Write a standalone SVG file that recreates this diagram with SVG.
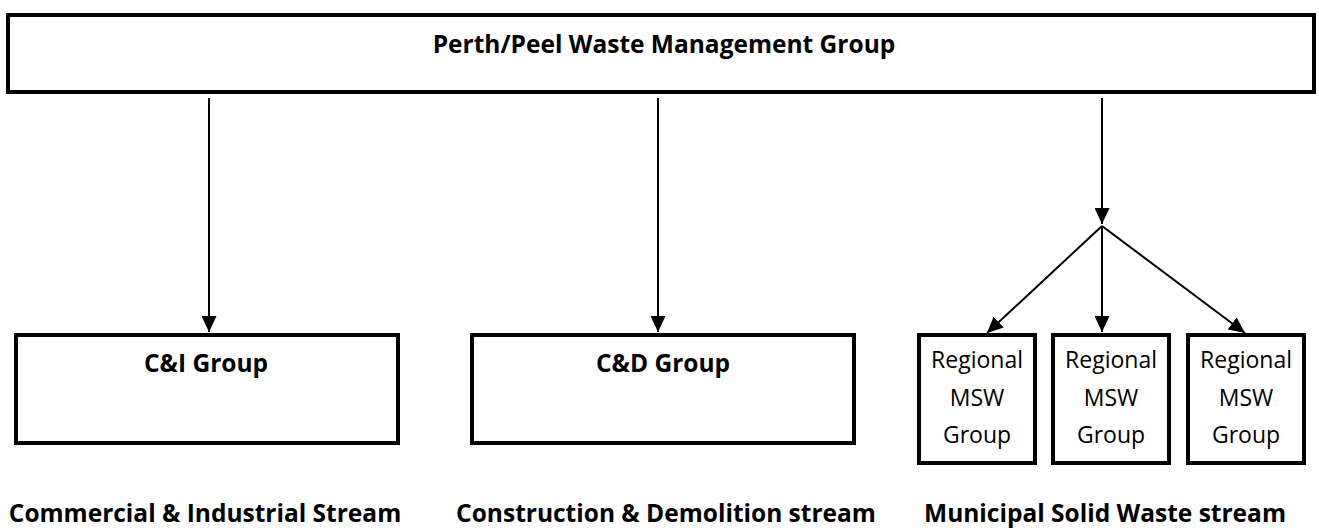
<svg xmlns="http://www.w3.org/2000/svg" width="1319" height="528" viewBox="0 0 1319 528">
<style>
.box{fill:#fff;stroke:#000;stroke-width:4}
.b{font-family:"Open Sans","Liberation Sans",sans-serif;font-weight:bold;font-size:24.5px;fill:#000;text-anchor:middle}
.r{font-family:"Open Sans","Liberation Sans",sans-serif;font-size:23px;fill:#000;text-anchor:middle}
.c{stroke:#000;stroke-width:2;fill:none;marker-end:url(#ah)}
</style>
<defs>
<marker id="ah" markerUnits="userSpaceOnUse" markerWidth="16" markerHeight="15" refX="16" refY="7.5" orient="auto" viewBox="0 0 16 15">
<path d="M0,0 L16,7.5 L0,15 z" fill="#000"/>
</marker>
</defs>
<rect width="1319" height="528" fill="#fff"/>
<g id="top">
<rect class="box" x="8" y="15" width="1306" height="77"/>
<text class="b" x="664" y="53">Perth/Peel Waste Management Group</text>
</g>
<g id="ci">
<rect class="box" x="16" y="335" width="382" height="108"/>
<text class="b" x="206" y="372">C&amp;I Group</text>
</g>
<g id="cd">
<rect class="box" x="472" y="335" width="382" height="108"/>
<text class="b" x="663" y="372">C&amp;D Group</text>
</g>
<g id="msw1">
<rect class="box" x="919" y="335" width="116" height="128"/>
<text class="r" x="977" y="368">Regional</text>
<text class="r" x="977" y="406">MSW</text>
<text class="r" x="977" y="443">Group</text>
</g>
<g id="msw2">
<rect class="box" x="1053" y="335" width="116" height="128"/>
<text class="r" x="1111" y="368">Regional</text>
<text class="r" x="1111" y="406">MSW</text>
<text class="r" x="1111" y="443">Group</text>
</g>
<g id="msw3">
<rect class="box" x="1188" y="335" width="116" height="128"/>
<text class="r" x="1246" y="368">Regional</text>
<text class="r" x="1246" y="406">MSW</text>
<text class="r" x="1246" y="443">Group</text>
</g>
<g id="labels">
<text class="b" x="205" y="522">Commercial &amp; Industrial Stream</text>
<text class="b" x="666" y="522">Construction &amp; Demolition stream</text>
<text class="b" x="1105" y="522">Municipal Solid Waste stream</text>
</g>
<g id="connectors">
<line class="c" x1="209" y1="98" x2="209" y2="332"/>
<line class="c" x1="658" y1="98" x2="658" y2="332"/>
<line class="c" x1="1102" y1="98" x2="1102" y2="224"/>
<line class="c" x1="1102" y1="226" x2="987" y2="333"/>
<line class="c" x1="1102" y1="226" x2="1102" y2="332"/>
<line class="c" x1="1102" y1="226" x2="1245" y2="333"/>
</g>
</svg>
